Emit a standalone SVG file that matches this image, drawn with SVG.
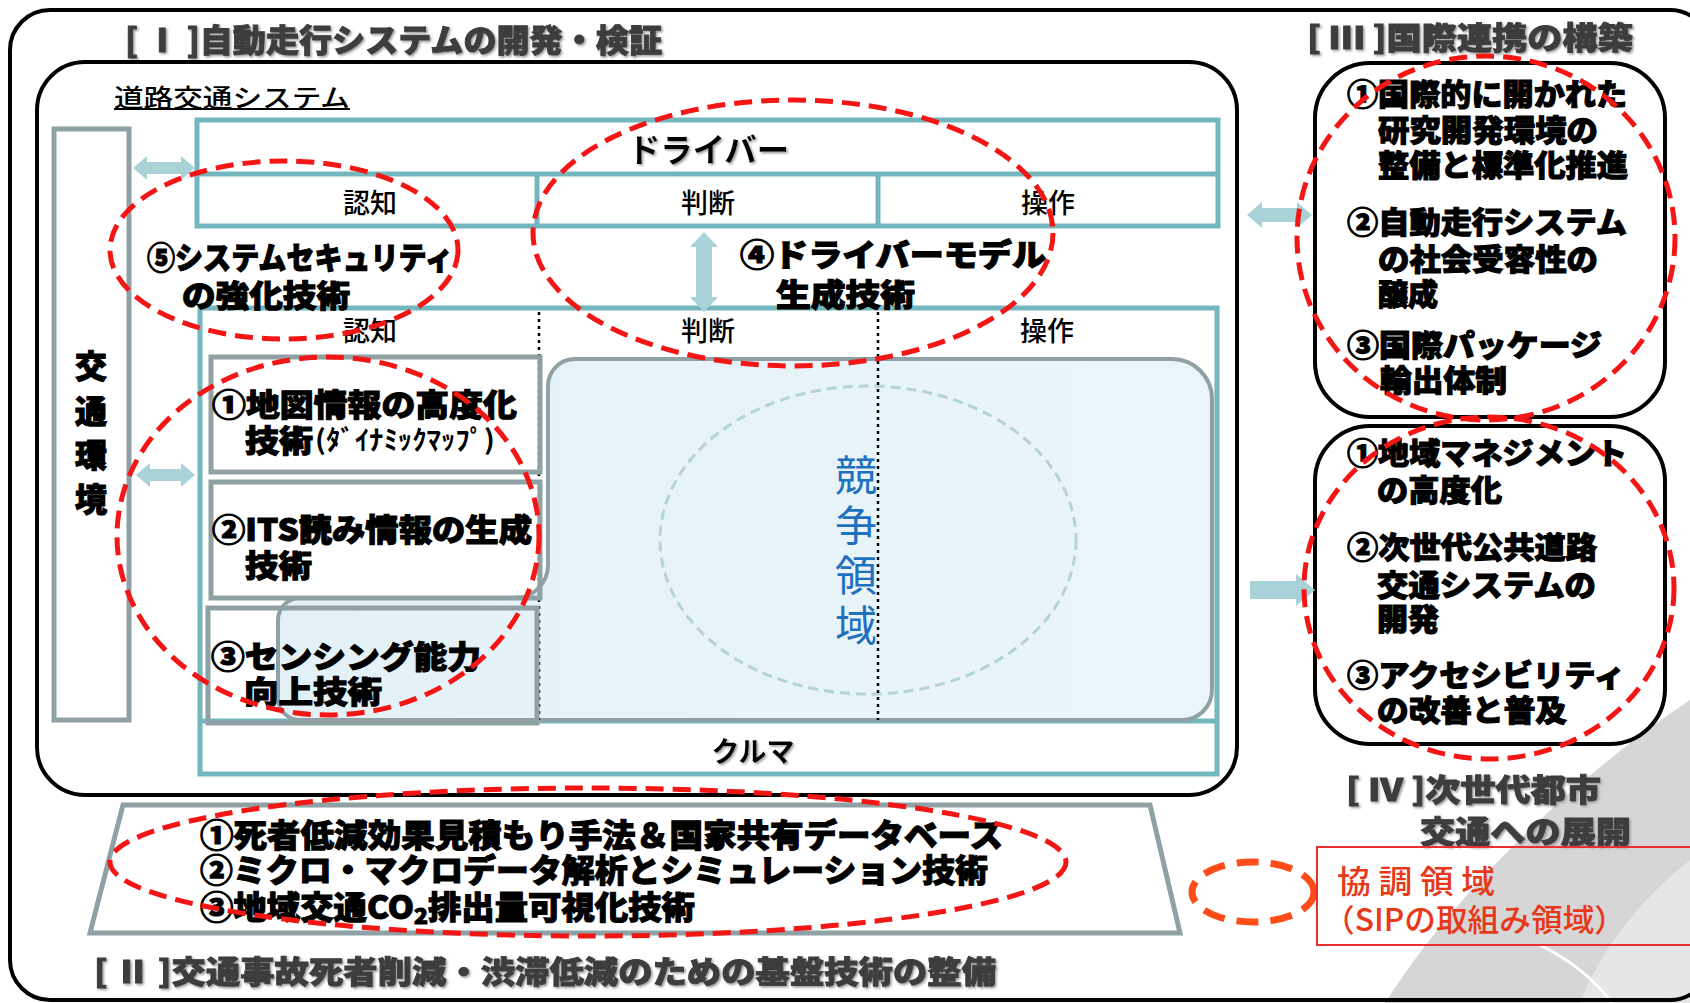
<svg xmlns="http://www.w3.org/2000/svg" width="1690" height="1003" viewBox="0 0 1690 1003">
<style>
.t{font-family:"Noto Sans CJK JP","Noto Sans CJK SC",sans-serif;dominant-baseline:central}
.h{font-weight:900;fill:#000;stroke:#000;stroke-width:1.1}
.ttl{font-weight:900;fill:#3c3c3c;stroke:#3c3c3c;stroke-width:0.9}
.m{font-weight:500;fill:#000}
.b{font-weight:700;fill:#000}
.c{text-anchor:middle}
.teal{fill:none;stroke:#72b7be;stroke-width:5}
.gbox{fill:none;stroke:#8fa1a4;stroke-width:5}
.blk{fill:none;stroke:#000;stroke-width:4}
.red{fill:none;stroke:#f41515;stroke-width:5;stroke-dasharray:18 9}
.arr{fill:#a9d1d8}
.dot{stroke:#000;stroke-width:2.5;stroke-dasharray:3 4}
</style>
<defs>
<filter id="sh" x="-5%" y="-20%" width="110%" height="140%"><feDropShadow dx="1.5" dy="1.5" stdDeviation="1" flood-color="#999"/></filter>
<linearGradient id="bl" x1="0" y1="0" x2="1" y2="0"><stop offset="0" stop-color="#e3f1f6"/><stop offset="1" stop-color="#eaf5f9"/></linearGradient>
</defs>
<rect width="1690" height="1003" fill="#fff"/>
<g id="watermark">
<path d="M1690,700 C1600,760 1470,870 1385,1003 L1690,1003 Z" fill="#d6d6d6"/>
<path d="M1690,860 C1640,900 1600,950 1580,1003 L1690,1003 Z" fill="#e6e6e6"/>
<path d="M1540,945 C1570,960 1595,980 1612,1003" fill="none" stroke="#fff" stroke-width="3"/>
</g>
<rect id="outer" x="10" y="10" width="1700" height="990" rx="40" class="blk"/>
<g id="titles" filter="url(#sh)">
<text class="t ttl" x="125" y="38" font-size="32" textLength="537" lengthAdjust="spacingAndGlyphs">[ Ⅰ ]自動走行システムの開発・検証</text>
<text class="t ttl" x="1307" y="35" font-size="31" textLength="326" lengthAdjust="spacingAndGlyphs">[ Ⅲ ]国際連携の構築</text>
<text class="t ttl" x="94" y="969" font-size="31" textLength="902" lengthAdjust="spacingAndGlyphs">[ Ⅱ ]交通事故死者削減・渋滞低減のための基盤技術の整備</text>
<text class="t ttl" x="1346" y="787" font-size="31" textLength="255" lengthAdjust="spacingAndGlyphs">[ Ⅳ ]次世代都市</text>
<text class="t ttl" x="1420" y="829" font-size="31" textLength="211" lengthAdjust="spacingAndGlyphs">交通への展開</text>
</g>
<g id="road-system">
<rect x="37" y="62" width="1200" height="733" rx="48" class="blk"/>
<text class="t m" x="114" y="96" font-size="25" textLength="236" lengthAdjust="spacingAndGlyphs">道路交通システム</text>
<line x1="114" y1="109" x2="350" y2="109" stroke="#000" stroke-width="2"/>
</g>
<g id="env">
<rect x="54" y="129" width="75" height="591" fill="#fff" stroke="#8fa1a4" stroke-width="5"/>
<text class="t h c" font-size="32"><tspan x="91" y="364">交</tspan><tspan x="91" y="409">通</tspan><tspan x="91" y="453">環</tspan><tspan x="91" y="497">境</tspan></text>
</g>
<g id="driver">
<rect x="197" y="120" width="1021" height="106" class="teal"/>
<line x1="197" y1="174" x2="1218" y2="174" class="teal"/>
<line x1="537" y1="174" x2="537" y2="226" class="teal"/>
<line x1="878" y1="174" x2="878" y2="226" class="teal"/>
<text class="t b" x="628" y="148" font-size="33" textLength="161" lengthAdjust="spacingAndGlyphs" filter="url(#sh)">ドライバー</text>
<text class="t m c" x="370" y="201" font-size="27">認知</text>
<text class="t m c" x="708" y="201" font-size="27">判断</text>
<text class="t m c" x="1048" y="201" font-size="27">操作</text>
</g>
<g id="car">
<rect x="200" y="308" width="1017" height="466" class="teal"/>
<line x1="200" y1="721" x2="1217" y2="721" class="teal"/>
<path d="M575,359 H1172 A40,40 0 0 1 1212,399 V690 A30,30 0 0 1 1182,720 H300 A22,22 0 0 1 278,698 V620 A22,22 0 0 1 300,598 H515 A33,33 0 0 0 548,565 V386 A27,27 0 0 1 575,359 Z" fill="url(#bl)" stroke="#8fa1a4" stroke-width="4"/>
<ellipse cx="868" cy="540" rx="208" ry="154" fill="none" stroke="#b3d3d8" stroke-width="3" stroke-dasharray="10 6"/>
<text class="t c" font-size="42" fill="#1f70bf"><tspan x="856" y="472">競</tspan><tspan x="856" y="522">争</tspan><tspan x="856" y="572">領</tspan><tspan x="856" y="622">域</tspan></text>
<line x1="539" y1="312" x2="539" y2="720" class="dot"/>
<line x1="878" y1="312" x2="878" y2="720" class="dot"/>
<rect x="211" y="357" width="329" height="115" class="gbox"/>
<rect x="211" y="482" width="329" height="116" class="gbox"/>
<rect x="208" y="608" width="329" height="115" class="gbox"/>
<text class="t m c" x="370" y="329" font-size="27">認知</text>
<text class="t m c" x="708" y="329" font-size="27">判断</text>
<text class="t m c" x="1047" y="329" font-size="27">操作</text>
<text class="t b c" x="753" y="750" font-size="28" filter="url(#sh)">クルマ</text>
</g>
<g id="tech-texts">
<text class="t h" x="147" y="255" font-size="31" textLength="306" lengthAdjust="spacingAndGlyphs">⑤システムセキュリティ</text>
<text class="t h" x="182" y="293" font-size="31" textLength="168" lengthAdjust="spacingAndGlyphs">の強化技術</text>
<text class="t h" x="740" y="252" font-size="31" textLength="306" lengthAdjust="spacingAndGlyphs">④ドライバーモデル</text>
<text class="t h" x="776" y="292" font-size="31" textLength="139" lengthAdjust="spacingAndGlyphs">生成技術</text>
<text class="t h" x="212" y="402" font-size="31" textLength="305" lengthAdjust="spacingAndGlyphs">①地図情報の高度化</text>
<text class="t h" x="245" y="438" font-size="31" textLength="68" lengthAdjust="spacingAndGlyphs">技術</text>
<text class="t b" x="315" y="438" font-size="27" textLength="180" lengthAdjust="spacingAndGlyphs">(ﾀﾞｲﾅﾐｯｸﾏｯﾌﾟ)</text>
<text class="t h" x="212" y="527" font-size="31" textLength="320" lengthAdjust="spacingAndGlyphs">②ITS読み情報の生成</text>
<text class="t h" x="245" y="563" font-size="31" textLength="67" lengthAdjust="spacingAndGlyphs">技術</text>
<text class="t h" x="211" y="654" font-size="31" textLength="270" lengthAdjust="spacingAndGlyphs">③センシング能力</text>
<text class="t h" x="244" y="689" font-size="31" textLength="138" lengthAdjust="spacingAndGlyphs">向上技術</text>
</g>
<g id="intl">
<rect x="1315" y="63" width="350" height="354" rx="55" class="blk"/>
<text class="t h" x="1347" y="92" font-size="30" textLength="280" lengthAdjust="spacingAndGlyphs">①国際的に開かれた</text>
<text class="t h" x="1378" y="128" font-size="30" textLength="220" lengthAdjust="spacingAndGlyphs">研究開発環境の</text>
<text class="t h" x="1378" y="163" font-size="30" textLength="250" lengthAdjust="spacingAndGlyphs">整備と標準化推進</text>
<text class="t h" x="1347" y="220" font-size="30" textLength="280" lengthAdjust="spacingAndGlyphs">②自動走行システム</text>
<text class="t h" x="1378" y="257" font-size="30" textLength="220" lengthAdjust="spacingAndGlyphs">の社会受容性の</text>
<text class="t h" x="1378" y="292" font-size="30" textLength="60" lengthAdjust="spacingAndGlyphs">醸成</text>
<text class="t h" x="1347" y="343" font-size="30" textLength="255" lengthAdjust="spacingAndGlyphs">③国際パッケージ</text>
<text class="t h" x="1380" y="378" font-size="30" textLength="127" lengthAdjust="spacingAndGlyphs">輸出体制</text>
</g>
<g id="city">
<rect x="1315" y="426" width="350" height="318" rx="55" class="blk"/>
<text class="t h" x="1347" y="451" font-size="30" textLength="280" lengthAdjust="spacingAndGlyphs">①地域マネジメント</text>
<text class="t h" x="1377" y="488" font-size="30" textLength="125" lengthAdjust="spacingAndGlyphs">の高度化</text>
<text class="t h" x="1347" y="545" font-size="30" textLength="250" lengthAdjust="spacingAndGlyphs">②次世代公共道路</text>
<text class="t h" x="1377" y="583" font-size="30" textLength="219" lengthAdjust="spacingAndGlyphs">交通システムの</text>
<text class="t h" x="1377" y="617" font-size="30" textLength="62" lengthAdjust="spacingAndGlyphs">開発</text>
<text class="t h" x="1347" y="673" font-size="30" textLength="278" lengthAdjust="spacingAndGlyphs">③アクセシビリティ</text>
<text class="t h" x="1377" y="708" font-size="30" textLength="190" lengthAdjust="spacingAndGlyphs">の改善と普及</text>
</g>
<g id="base">
<polygon points="123,805 1150,805 1180,933 90,933" fill="#fff" stroke="#8fa1a4" stroke-width="5"/>
<text class="t h" x="200" y="833" font-size="32" textLength="803" lengthAdjust="spacingAndGlyphs">①死者低減効果見積もり手法＆国家共有データベース</text>
<text class="t h" x="200" y="868" font-size="32" textLength="788" lengthAdjust="spacingAndGlyphs">②ミクロ・マクロデータ解析とシミュレーション技術</text>
<text class="t h" x="200" y="905" font-size="32" textLength="495" lengthAdjust="spacingAndGlyphs">③地域交通CO<tspan font-size="22" dy="9">2</tspan><tspan dy="-9">排出量可視化技術</tspan></text>
</g>
<g id="connectors">
<polygon class="arr" points="133,168 147,156 147,162 181,162 181,156 195,168 181,180 181,174 147,174 147,180"/>
<polygon class="arr" points="136,475 150,463 150,469 181,469 181,463 195,475 181,487 181,481 150,481 150,487"/>
<polygon class="arr" points="704,232 718,247 712,247 712,297 718,297 704,312 690,297 696,297 696,247 690,247"/>
<polygon class="arr" points="1247,215 1262,202 1262,208 1297,208 1297,202 1312,215 1297,228 1297,222 1262,222 1262,228"/>
<polygon class="arr" points="1250,581 1296,581 1296,574 1315,590 1296,606 1296,599 1250,599"/>
</g>
<g id="coop-areas">
<ellipse cx="284" cy="250" rx="174" ry="89" class="red"/>
<ellipse cx="793" cy="233" rx="260" ry="133" class="red"/>
<ellipse cx="328" cy="536" rx="211" ry="179" class="red"/>
<ellipse cx="1486" cy="238" rx="189" ry="182" class="red"/>
<ellipse cx="1489" cy="588" rx="185" ry="171" class="red"/>
<ellipse cx="588" cy="862" rx="478" ry="74" class="red" stroke-dasharray="12 6"/>
</g>
<g id="legend">
<ellipse cx="1253" cy="892" rx="61" ry="30" fill="none" stroke="#ff4d1a" stroke-width="7" stroke-dasharray="22 12"/>
<rect x="1317" y="847" width="400" height="98" fill="none" stroke="#e83030" stroke-width="2"/>
<text class="t" x="1337" y="879" font-size="32" fill="#e8381a" font-weight="500" textLength="158" lengthAdjust="spacingAndGlyphs">協 調 領 域</text>
<text class="t" x="1323" y="917" font-size="31" fill="#e8381a" font-weight="500" textLength="303" lengthAdjust="spacingAndGlyphs">（SIPの取組み領域）</text>
</g>
</svg>
